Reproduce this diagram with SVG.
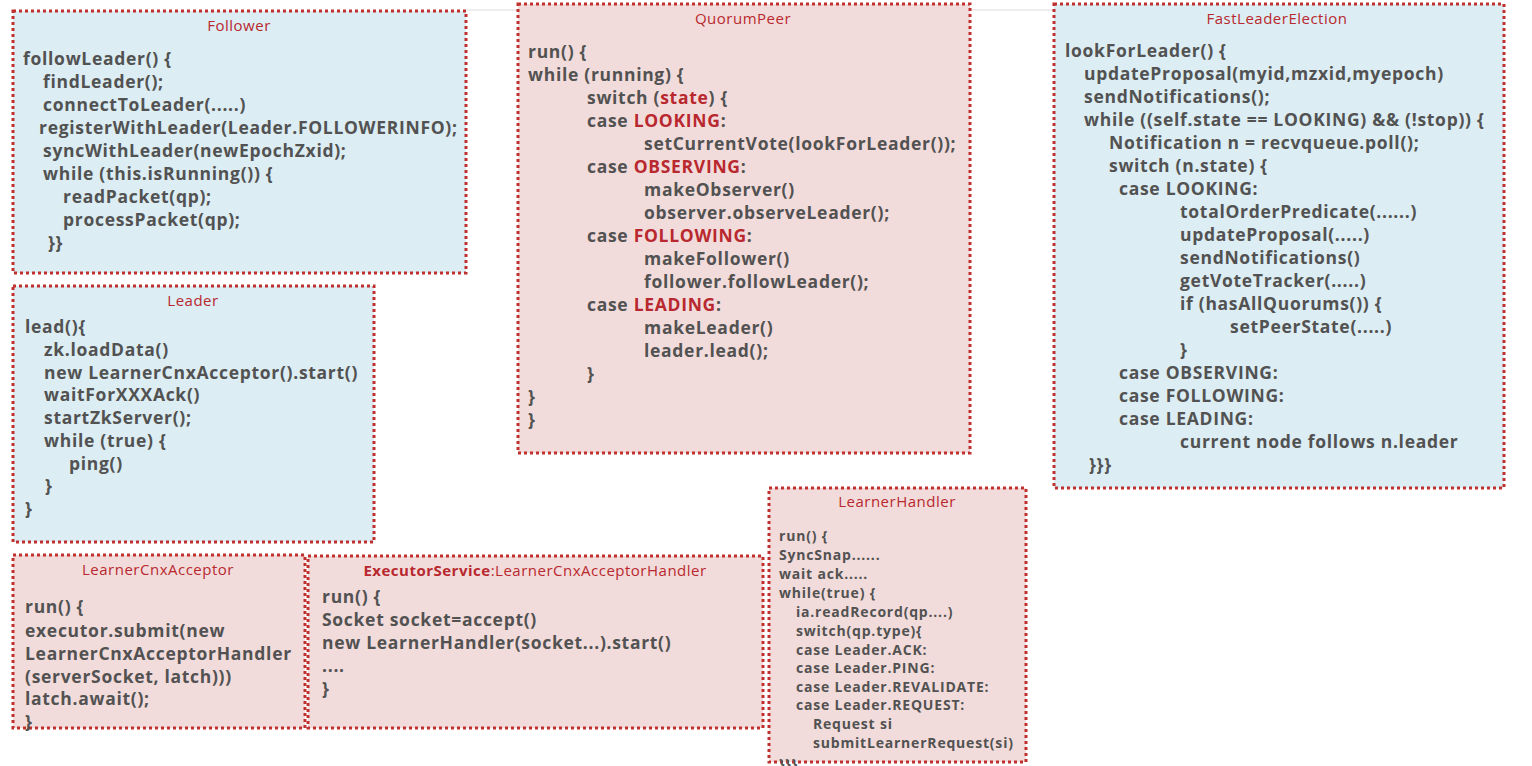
<svg xmlns="http://www.w3.org/2000/svg" width="1532" height="766" viewBox="0 0 1532 766">
<style>
.bg{fill:#ffffff}
.box{stroke:#c0302e;stroke-width:3;stroke-dasharray:3 3}
.blue{fill:#dcedf3}
.pink{fill:#f2dcdb}
.title{font-family:"Open Sans","Liberation Sans",sans-serif;font-size:15px;letter-spacing:0.5px;fill:#b8282e;text-anchor:middle}
.code{font-family:"Open Sans","Liberation Sans",sans-serif;font-size:17.5px;letter-spacing:0.7px;font-weight:bold;fill:#525252}
.small{font-family:"Open Sans","Liberation Sans",sans-serif;font-size:14px;letter-spacing:0.8px;font-weight:bold;fill:#525252}
.kw{fill:#b8282e}
</style>
<rect class="bg" x="0" y="0" width="1532" height="766"/>
<line x1="466" y1="10" x2="1053" y2="10" stroke="#eeeeee" stroke-width="2"/>
<g id="connectors"></g>

<g id="follower">
<rect class="box blue" x="13" y="11" width="453" height="262"/>
<text class="title" x="239" y="31">Follower</text>
<text class="code" x="23" y="65">followLeader() {</text>
<text class="code" x="43" y="88">findLeader();</text>
<text class="code" x="43" y="111">connectToLeader(.....)</text>
<text class="code" x="39" y="134">registerWithLeader(Leader.FOLLOWERINFO);</text>
<text class="code" x="43" y="157">syncWithLeader(newEpochZxid);</text>
<text class="code" x="43" y="180">while (this.isRunning()) {</text>
<text class="code" x="63" y="203">readPacket(qp);</text>
<text class="code" x="63" y="226">processPacket(qp);</text>
<text class="code" x="48" y="249">}}</text>
</g>

<g id="leader">
<rect class="box blue" x="13" y="286" width="361" height="256"/>
<text class="title" x="193" y="306">Leader</text>
<text class="code" x="25" y="333">lead(){</text>
<text class="code" x="44" y="356">zk.loadData()</text>
<text class="code" x="44" y="379">new LearnerCnxAcceptor().start()</text>
<text class="code" x="44" y="401">waitForXXXAck()</text>
<text class="code" x="44" y="424">startZkServer();</text>
<text class="code" x="44" y="447">while (true) {</text>
<text class="code" x="69" y="470">ping()</text>
<text class="code" x="45" y="492">}</text>
<text class="code" x="25" y="515">}</text>
</g>

<g id="quorumpeer">
<rect class="box pink" x="518" y="4" width="452" height="449"/>
<text class="title" x="743" y="24">QuorumPeer</text>
<text class="code" x="528" y="58">run() {</text>
<text class="code" x="528" y="81">while (running) {</text>
<text class="code" x="587" y="104">switch (<tspan class="kw">state</tspan>) {</text>
<text class="code" x="587" y="127">case <tspan class="kw">LOOKING</tspan>:</text>
<text class="code" x="644" y="150">setCurrentVote(lookForLeader());</text>
<text class="code" x="587" y="173">case <tspan class="kw">OBSERVING</tspan>:</text>
<text class="code" x="644" y="196">makeObserver()</text>
<text class="code" x="644" y="219">observer.observeLeader();</text>
<text class="code" x="587" y="242">case <tspan class="kw">FOLLOWING</tspan>:</text>
<text class="code" x="644" y="265">makeFollower()</text>
<text class="code" x="644" y="288">follower.followLeader();</text>
<text class="code" x="587" y="311">case <tspan class="kw">LEADING</tspan>:</text>
<text class="code" x="644" y="334">makeLeader()</text>
<text class="code" x="644" y="357">leader.lead();</text>
<text class="code" x="587" y="380">}</text>
<text class="code" x="528" y="403">}</text>
<text class="code" x="528" y="426">}</text>
</g>

<g id="fastleaderelection">
<rect class="box blue" x="1054" y="4" width="450" height="484"/>
<text class="title" x="1277" y="24">FastLeaderElection</text>
<text class="code" x="1065" y="57">lookForLeader() {</text>
<text class="code" x="1084" y="80">updateProposal(myid,mzxid,myepoch)</text>
<text class="code" x="1084" y="103">sendNotifications();</text>
<text class="code" x="1084" y="126">while ((self.state == LOOKING) &amp;&amp; (!stop)) {</text>
<text class="code" x="1109" y="149">Notification n = recvqueue.poll();</text>
<text class="code" x="1109" y="172">switch (n.state) {</text>
<text class="code" x="1119" y="195">case LOOKING:</text>
<text class="code" x="1180" y="218">totalOrderPredicate(......)</text>
<text class="code" x="1180" y="241">updateProposal(.....)</text>
<text class="code" x="1180" y="264">sendNotifications()</text>
<text class="code" x="1180" y="287">getVoteTracker(.....)</text>
<text class="code" x="1180" y="310">if (hasAllQuorums()) {</text>
<text class="code" x="1230" y="333">setPeerState(.....)</text>
<text class="code" x="1180" y="356">}</text>
<text class="code" x="1119" y="379">case OBSERVING:</text>
<text class="code" x="1119" y="402">case FOLLOWING:</text>
<text class="code" x="1119" y="425">case LEADING:</text>
<text class="code" x="1180" y="448">current node follows n.leader</text>
<text class="code" x="1089" y="471">}}}</text>
</g>

<g id="learnerhandler">
<rect class="box pink" x="769" y="488" width="257" height="274"/>
<text class="title" x="897" y="507">LearnerHandler</text>
<text class="small" x="779" y="541">run() {</text>
<text class="small" x="779" y="560">SyncSnap......</text>
<text class="small" x="779" y="579">wait ack.....</text>
<text class="small" x="779" y="598">while(true) {</text>
<text class="small" x="796" y="617">ia.readRecord(qp....)</text>
<text class="small" x="796" y="636">switch(qp.type){</text>
<text class="small" x="796" y="655">case Leader.ACK:</text>
<text class="small" x="796" y="673">case Leader.PING:</text>
<text class="small" x="796" y="692">case Leader.REVALIDATE:</text>
<text class="small" x="796" y="710">case Leader.REQUEST:</text>
<text class="small" x="813" y="729">Request si</text>
<text class="small" x="813" y="748">submitLearnerRequest(si)</text>
<text class="small" x="779" y="769">}}}</text>
</g>

<g id="learnercnxacceptor">
<rect class="box pink" x="13" y="555" width="292" height="173"/>
<text class="title" x="158" y="575">LearnerCnxAcceptor</text>
<text class="code" x="25" y="613">run() {</text>
<text class="code" x="25" y="637">executor.submit(new</text>
<text class="code" x="25" y="660">LearnerCnxAcceptorHandler</text>
<text class="code" x="25" y="683">(serverSocket, latch)))</text>
<text class="code" x="25" y="705">latch.await();</text>
<text class="code" x="25" y="728">}</text>
</g>

<g id="executorservice">
<rect class="box pink" x="308" y="556" width="455" height="172"/>
<text class="title" x="535" y="576"><tspan font-weight="bold">ExecutorService</tspan>:LearnerCnxAcceptorHandler</text>
<text class="code" x="322" y="603">run() {</text>
<text class="code" x="322" y="626">Socket socket=accept()</text>
<text class="code" x="322" y="649">new LearnerHandler(socket...).start()</text>
<text class="code" x="322" y="672">....</text>
<text class="code" x="322" y="695">}</text>
</g>
</svg>
